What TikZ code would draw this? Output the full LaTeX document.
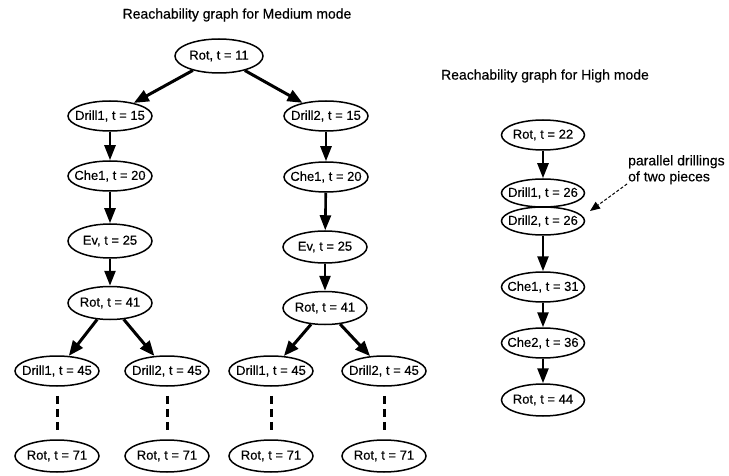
\documentclass[tikz,border=0pt]{standalone}
\usepackage{fontspec}
\setmainfont{Liberation Sans}[FakeBold=0.4]
\usetikzlibrary{shapes.geometric,arrows.meta}
% state label of zero width, so the ellipse size comes from the style
\newcommand{\stlabel}[1]{\makebox[0pt]{#1}}
\begin{document}
\begin{tikzpicture}[x=1pt,y=-1pt,
  state/.style={ellipse, draw, line width=1.5pt, inner sep=0pt,
    minimum width=84pt, minimum height=30pt,
    font=\fontsize{13}{15}\selectfont},
  flow/.style={line width=3pt, -{Triangle[length=15pt,width=12pt]}},
  vflow/.style={line width=2.6pt, -{Triangle[length=15pt,width=11pt]}},
  later/.style={line width=3pt, dash pattern=on 8pt off 5pt,
    shorten <=9pt, shorten >=5pt},
  heading/.style={font=\fontsize{14}{16}\selectfont},
  remark/.style={font=\fontsize{14}{16}\selectfont, align=left, inner sep=0pt},
  pointer/.style={line width=1pt, dash pattern=on 3pt off 2pt,
    -{Triangle[length=10pt,width=8pt]}}]
\useasboundingbox (0,0) rectangle (729,476);

% ---------------- Medium mode ----------------
\node[heading] (tmed) at (237,15) {Reachability graph for Medium mode};

\node[state, minimum width=88pt, minimum height=34pt] (r11) at (219,56) {\stlabel{Rot, t = 11}};

\node[state] (d1a) at (110,116) {\stlabel{Drill1, t = 15}};
\node[state] (c1a) at (110,176) {\stlabel{Che1, t = 20}};
\node[state, minimum height=34pt] (eva) at (110,241) {\stlabel{Ev, t = 25}};
\node[state, minimum height=33pt] (r41a) at (110,303) {\stlabel{Rot, t = 41}};
\node[state] (d1b) at (57,371) {\stlabel{Drill1, t = 45}};
\node[state] (d2b) at (167,371) {\stlabel{Drill2, t = 45}};
\node[state, minimum height=32pt] (r71a) at (57,456) {\stlabel{Rot, t = 71}};
\node[state, minimum height=32pt] (r71b) at (167,456) {\stlabel{Rot, t = 71}};

\node[state] (d2a) at (326,116) {\stlabel{Drill2, t = 15}};
\node[state] (c1b) at (326,177) {\stlabel{Che1, t = 20}};
\node[state, minimum height=32pt] (evb) at (325,247) {\stlabel{Ev, t = 25}};
\node[state, minimum height=33pt] (r41b) at (325,308) {\stlabel{Rot, t = 41}};
\node[state] (d1c) at (271,371) {\stlabel{Drill1, t = 45}};
\node[state] (d2c) at (384,371) {\stlabel{Drill2, t = 45}};
\node[state, minimum height=32pt] (r71c) at (271,456) {\stlabel{Rot, t = 71}};
\node[state, minimum height=32pt] (r71d) at (384,456) {\stlabel{Rot, t = 71}};

\draw[flow] (r11) -- (d1a);
\draw[flow] (r11) -- (d2a);
\draw[vflow] (d1a) -- (c1a);
\draw[vflow] (c1a) -- (eva);
\draw[vflow] (eva) -- (r41a);
\draw[flow] (r41a) -- (d1b);
\draw[flow] (r41a) -- (d2b);
\draw[later] (d1b) -- (r71a);
\draw[later] (d2b) -- (r71b);

\draw[vflow] (d2a) -- (c1b);
\draw[vflow] (c1b) -- (evb);
\draw[vflow] (evb) -- (r41b);
\draw[flow] (r41b) -- (d1c);
\draw[flow] (r41b) -- (d2c);
\draw[later] (d1c) -- (r71c);
\draw[later] (d2c) -- (r71d);

% ---------------- High mode ----------------
\node[heading] (thigh) at (545,76) {Reachability graph for High mode};

\node[state, minimum width=83pt] (h22) at (543,135) {\stlabel{Rot, t = 22}};
\node[state, minimum width=83pt, minimum height=28pt] (h26a) at (543,193) {\stlabel{Drill1, t = 26}};
\node[state, minimum width=83pt, minimum height=28pt] (h26b) at (543,221) {\stlabel{Drill2, t = 26}};
\node[state, minimum width=83pt] (h31) at (543,287) {\stlabel{Che1, t = 31}};
\node[state, minimum width=83pt] (h36) at (543,343) {\stlabel{Che2, t = 36}};
\node[state, minimum width=83pt, minimum height=32pt] (h44) at (543,400) {\stlabel{Rot, t = 44}};

\draw[vflow] (h22) -- (h26a);
\draw[vflow] (h26b) -- (h31);
\draw[vflow] (h31) -- (h36);
\draw[vflow] (h36) -- (h44);

\node[remark, anchor=north west] (note) at (628,155) {parallel drillings\\of two pieces};
\coordinate (ptrtail) at (627,184);
\coordinate (ptrtip) at (590,211);
\draw[pointer] (ptrtail) -- (ptrtip);
\end{tikzpicture}
\end{document}
